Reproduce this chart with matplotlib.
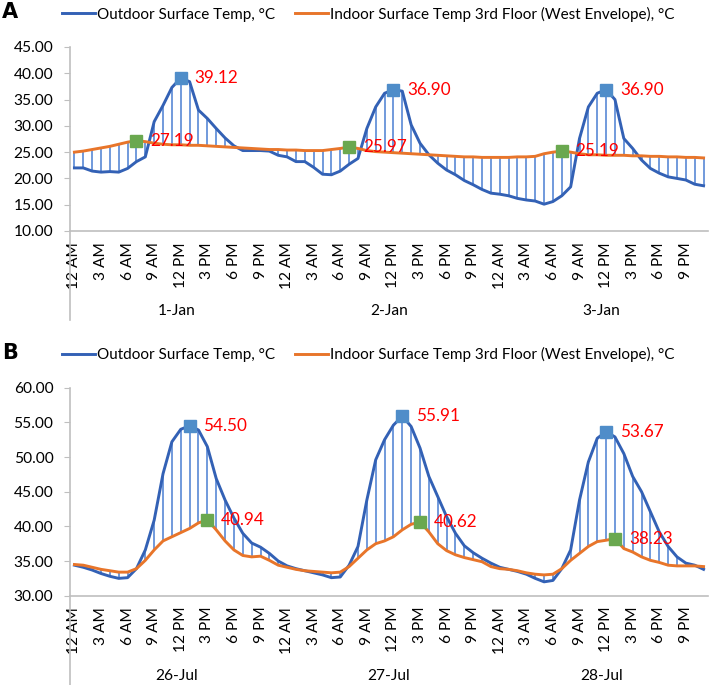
import matplotlib.pyplot as plt
import matplotlib.transforms as mtransforms
from matplotlib.lines import Line2D

plt.rcParams['font.family'] = ['Lato', 'DejaVu Sans']

hour_labels = ['12 AM', '3 AM', '6 AM', '9 AM', '12 PM', '3 PM', '6 PM', '9 PM']

# panel A - January
days_a = ['1-Jan', '2-Jan', '3-Jan']
out_a = [22.0, 22.0, 21.4, 21.2, 21.3, 21.2, 21.9, 23.2, 24.1, 30.8, 33.9, 37.3,
         39.12, 38.4, 33.0, 31.4, 29.5, 27.7, 26.2, 25.3, 25.3, 25.3, 25.2, 24.4,
         24.1, 23.2, 23.2, 22.1, 20.8, 20.7, 21.4, 22.7, 23.8, 29.5, 33.6, 36.2,
         36.90, 36.6, 30.2, 26.7, 24.5, 22.9, 21.6, 20.7, 19.6, 18.8, 17.9, 17.2,
         17.0, 16.7, 16.2, 15.9, 15.7, 15.1, 15.6, 16.7, 18.4, 27.6, 33.6, 36.2,
         36.90, 35.0, 27.6, 25.7, 23.5, 21.9, 21.0, 20.3, 20.0, 19.7, 18.9, 18.6]
in_a = [25.0, 25.2, 25.5, 25.8, 26.1, 26.5, 26.9, 27.19, 27.0, 26.7, 26.5, 26.4,
        26.4, 26.3, 26.3, 26.2, 26.1, 26.0, 25.9, 25.8, 25.7, 25.6, 25.5, 25.5,
        25.4, 25.4, 25.3, 25.3, 25.3, 25.5, 25.7, 25.97, 25.7, 25.3, 25.1, 25.0,
        24.9, 24.8, 24.7, 24.6, 24.5, 24.4, 24.3, 24.2, 24.1, 24.1, 24.0, 24.0,
        24.0, 24.0, 24.1, 24.1, 24.2, 24.7, 25.0, 25.19, 25.0, 24.7, 24.5, 24.5,
        24.4, 24.4, 24.4, 24.3, 24.3, 24.2, 24.2, 24.1, 24.1, 24.0, 24.0, 23.9]
out_peaks_a = [12, 36, 60]
in_peaks_a = [7, 31, 55]

# panel B - July
days_b = ['26-Jul', '27-Jul', '28-Jul']
out_b = [34.4, 34.1, 33.7, 33.2, 32.8, 32.5, 32.6, 33.9, 36.6, 40.9, 47.6, 52.2,
         54.0, 54.50, 53.9, 51.5, 46.9, 43.8, 41.2, 39.0, 37.6, 37.0, 36.1, 35.0,
         34.3, 33.9, 33.6, 33.3, 33.0, 32.6, 32.7, 34.4, 37.1, 43.8, 49.6, 52.5,
         54.6, 55.91, 54.4, 51.3, 47.2, 44.3, 41.4, 39.0, 37.2, 36.2, 35.4, 34.7,
         34.1, 33.8, 33.5, 33.1, 32.5, 32.0, 32.2, 33.9, 36.6, 43.8, 49.3, 52.7,
         53.67, 52.9, 50.5, 47.2, 45.0, 42.1, 39.2, 37.1, 35.6, 34.7, 34.4, 33.8]
in_b = [34.5, 34.4, 34.1, 33.8, 33.6, 33.4, 33.4, 33.9, 35.1, 36.6, 37.9, 38.5,
        39.1, 39.7, 40.5, 40.94, 39.5, 37.9, 36.6, 35.8, 35.6, 35.7, 35.1, 34.4,
        34.1, 33.8, 33.6, 33.5, 33.4, 33.3, 33.4, 34.2, 35.4, 36.6, 37.5, 37.9,
        38.5, 39.5, 40.3, 40.62, 39.2, 37.5, 36.5, 35.9, 35.5, 35.2, 34.9, 34.2,
        33.9, 33.8, 33.6, 33.3, 33.1, 33.0, 33.1, 33.9, 35.1, 36.1, 37.1, 37.8,
        38.0, 38.23, 36.8, 36.3, 35.6, 35.1, 34.8, 34.4, 34.3, 34.3, 34.3, 34.2]
out_peaks_b = [13, 37, 60]
in_peaks_b = [15, 39, 61]

name_out = 'Outdoor Surface Temp, °C'
name_in = 'Indoor Surface Temp 3rd Floor (West Envelope), °C'

c_out = '#3361b5'
c_drop = '#4a7fd2'
c_in = '#e8752a'
c_mk_out = '#4f8dc9'
c_mk_in = '#6aa84f'
c_axis = '#bfbfbf'
fs = 11.2
fs_leg = 11.0
fs_lab = 12.3

W, H = 713, 685
fig = plt.figure(figsize=(W / 100, H / 100), dpi=100)


def panel(top, bottom, ymin, ymax, out, inn, pk_out, pk_in, days, letter, ext_bottom):
    ax = fig.add_axes([70 / W, (H - bottom) / H, 638 / W, (bottom - top) / H])
    x = list(range(len(out)))
    ax.vlines(x, inn, out, color=c_drop, lw=1.1, zorder=1)
    ax.plot(x, out, color=c_out, lw=2.1, zorder=2, solid_joinstyle='round')
    ax.plot(x, inn, color=c_in, lw=2.1, zorder=3, solid_joinstyle='round')
    for i in pk_out:
        ax.plot(i, out[i], 's', color=c_mk_out, ms=8.5, zorder=4)
        ax.annotate('%.2f' % out[i], (i, out[i]), xytext=(10, 0), textcoords='offset points',
                    ha='left', va='center', color='red', fontsize=fs_lab, zorder=5)
    for i in pk_in:
        ax.plot(i, inn[i], 's', color=c_mk_in, ms=8.5, zorder=4)
        ax.annotate('%.2f' % inn[i], (i, inn[i]), xytext=(10, 0), textcoords='offset points',
                    ha='left', va='center', color='red', fontsize=fs_lab, zorder=5)
    ax.set_xlim(-0.5, len(out) - 0.5)
    ax.set_ylim(ymin, ymax)
    ax.set_yticks(range(ymin, ymax + 1, 5))
    ax.set_yticklabels(['%.2f' % v for v in range(ymin, ymax + 1, 5)], fontsize=fs)
    ticks = list(range(0, len(out), 3))
    ax.set_xticks(ticks)
    ax.set_xticklabels([hour_labels[(t % 24) // 3] for t in ticks], rotation=90, fontsize=fs)
    ax.tick_params(axis='x', length=0, pad=8)
    ax.tick_params(axis='y', length=4, color=c_axis, pad=8)
    for s in ['top', 'right']:
        ax.spines[s].set_visible(False)
    ax.spines['bottom'].set_color(c_axis)
    ax.spines['left'].set_color(c_axis)
    ax.spines['bottom'].set_linewidth(1.2)
    ax.spines['left'].set_linewidth(1.2)
    trans = mtransforms.blended_transform_factory(ax.transData, ax.transAxes)
    h = bottom - top
    for d, name in enumerate(days):
        ax.text(d * 24 + 11.5, -(80 / h), name, transform=trans, ha='center', va='center',
                fontsize=fs)
    ax.add_line(Line2D([0, 0], [0, -(ext_bottom - bottom) / h], transform=ax.transAxes,
                       color=c_axis, lw=1.2, clip_on=False))
    fig.text(2 / W, 1 - (top - 35) / H, letter, fontsize=15, fontweight='bold',
             ha='left', va='center', family='DejaVu Sans')
    handles = [Line2D([], [], color=c_out, lw=2.1), Line2D([], [], color=c_in, lw=2.1)]
    fig.legend(handles, [name_out, name_in], loc='center', ncol=2, frameon=False,
               bbox_to_anchor=(368 / W, 1 - (top - 33) / H), fontsize=fs_leg,
               handlelength=2.2, handletextpad=0.1, columnspacing=1.3, borderpad=0)
    return ax


panel(47, 231, 10, 45, out_a, in_a, out_peaks_a, in_peaks_a, days_a, 'A', 320)
panel(387.7, 595.7, 30, 60, out_b, in_b, out_peaks_b, in_peaks_b, days_b, 'B', 685)

fig.savefig('out.png', dpi=100)
